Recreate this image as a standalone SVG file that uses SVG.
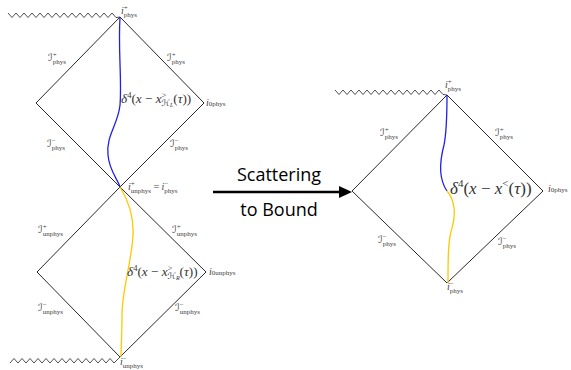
<svg xmlns="http://www.w3.org/2000/svg" width="571" height="370" viewBox="0 0 571 370">
<style>
.edge{fill:none;stroke:#111;stroke-width:0.9}
.zz{fill:none;stroke:#222;stroke-width:0.8}
.blue{fill:none;stroke:#2020e8;stroke-width:1.3}
.yel{fill:none;stroke:#ffc800;stroke-width:1.3}
.lbl{font-family:"Liberation Serif","DejaVu Serif",serif;fill:#444;font-size:10px}
.it{font-style:italic}
.s{font-size:7px;font-style:normal}
.sc{font-family:"DejaVu Serif","DejaVu Sans",serif;font-style:italic}
.math{font-family:"Liberation Serif","DejaVu Serif",serif;fill:#333;font-size:13.2px}
.mathR{font-size:17px}
.cap{font-family:"Open Sans","Noto Sans",sans-serif;font-size:18px;fill:#000;text-anchor:middle}
</style>

<g id="upper-diamond">
<path class="edge" d="M120,17 L204,103 L120,187 L36,103 Z"/>
<path class="zz" d="M8,13 l4,4.5 l4,-4.5 l4,4.5 l4,-4.5 l4,4.5 l4,-4.5 l4,4.5 l4,-4.5 l4,4.5 l4,-4.5 l4,4.5 l4,-4.5 l4,4.5 l4,-4.5 l4,4.5 l4,-4.5 l4,4.5 l4,-4.5 l4,4.5 l4,-4.5 l4,4.5 l4,-4.5 l4,4.5 l4,-4.5 l4,4.5 l4,-4.5 l4,4.5 L120,17"/>
<path class="blue" d="M120,17 C118,50 122,80 120,105 C118,125 106,135 108,155 C109,170 118,180 120,187"/>
<text class="lbl" x="121" y="14"><tspan class="it">i</tspan><tspan class="s" dy="-4">+</tspan><tspan class="s" dx="-4" dy="6.5">phys</tspan></text>
<text class="lbl" x="48" y="61"><tspan class="sc">ℐ</tspan><tspan class="s" dy="-4">+</tspan><tspan class="s" dx="-4" dy="6.5">phys</tspan></text>
<text class="lbl" x="167" y="61"><tspan class="sc">ℐ</tspan><tspan class="s" dy="-4">+</tspan><tspan class="s" dx="-4" dy="6.5">phys</tspan></text>
<text class="lbl" x="47" y="147"><tspan class="sc">ℐ</tspan><tspan class="s" dy="-4">−</tspan><tspan class="s" dx="-4" dy="6.5">phys</tspan></text>
<text class="lbl" x="170" y="147"><tspan class="sc">ℐ</tspan><tspan class="s" dy="-4">−</tspan><tspan class="s" dx="-4" dy="6.5">phys</tspan></text>
<text class="lbl" x="206" y="106"><tspan class="it">i</tspan><tspan class="s">0phys</tspan></text>
<text class="math" x="121" y="103"><tspan class="it">δ</tspan><tspan font-size="8.5" dy="-5.5">4</tspan><tspan dy="5.5">(</tspan><tspan class="it">x</tspan> − <tspan class="it">x</tspan><tspan font-size="8.5" dy="-5.5">&gt;</tspan><tspan font-size="8.5" class="sc" dx="-4.8" dy="8.5">ℋ</tspan><tspan font-size="6" class="it" dy="1">L</tspan><tspan dy="-4">(</tspan><tspan class="it">τ</tspan>))</text>
</g>

<g id="lower-diamond">
<path class="edge" d="M120,187 L206,272 L120,357 L37,272 Z"/>
<path class="zz" d="M10,363 l4,-4.5 l4,4.5 l4,-4.5 l4,4.5 l4,-4.5 l4,4.5 l4,-4.5 l4,4.5 l4,-4.5 l4,4.5 l4,-4.5 l4,4.5 l4,-4.5 l4,4.5 l4,-4.5 l4,4.5 l4,-4.5 l4,4.5 l4,-4.5 l4,4.5 l4,-4.5 l4,4.5 l4,-4.5 l4,4.5 l4,-4.5 l4,4.5 L120,357"/>
<path class="yel" d="M120,187 C128,200 134,215 133,235 C132,260 122,290 122,315 C122,335 121,350 121,357"/>
<text class="lbl" x="128" y="190"><tspan class="it">i</tspan><tspan class="s" dy="-4">+</tspan><tspan class="s" dx="-4" dy="6.5">unphys</tspan><tspan dy="-2.5"> = </tspan><tspan class="it">i</tspan><tspan class="s" dy="-4">−</tspan><tspan class="s" dx="-4" dy="6.5">phys</tspan></text>
<text class="lbl" x="38" y="233"><tspan class="sc">ℐ</tspan><tspan class="s" dy="-4">+</tspan><tspan class="s" dx="-4" dy="6.5">unphys</tspan></text>
<text class="lbl" x="172" y="233"><tspan class="sc">ℐ</tspan><tspan class="s" dy="-4">+</tspan><tspan class="s" dx="-4" dy="6.5">unphys</tspan></text>
<text class="lbl" x="38" y="311"><tspan class="sc">ℐ</tspan><tspan class="s" dy="-4">−</tspan><tspan class="s" dx="-4" dy="6.5">unphys</tspan></text>
<text class="lbl" x="175" y="311"><tspan class="sc">ℐ</tspan><tspan class="s" dy="-4">−</tspan><tspan class="s" dx="-4" dy="6.5">unphys</tspan></text>
<text class="lbl" x="209" y="275"><tspan class="it">i</tspan><tspan class="s">0unphys</tspan></text>
<text class="lbl" x="120" y="365"><tspan class="it">i</tspan><tspan class="s" dy="-4">−</tspan><tspan class="s" dx="-4" dy="6.5">unphys</tspan></text>
<text class="math" x="127" y="276"><tspan class="it">δ</tspan><tspan font-size="8.5" dy="-5.5">4</tspan><tspan dy="5.5">(</tspan><tspan class="it">x</tspan> − <tspan class="it">x</tspan><tspan font-size="8.5" dy="-5.5">&gt;</tspan><tspan font-size="8.5" class="sc" dx="-4.8" dy="8.5">ℋ</tspan><tspan font-size="6" class="it" dy="1">R</tspan><tspan dy="-4">(</tspan><tspan class="it">τ</tspan>))</text>
</g>

<g id="right-diamond">
<path class="edge" d="M447,95 L543,191 L447,283 L352,191 Z"/>
<path class="zz" d="M335,90 l4,4.5 l4,-4.5 l4,4.5 l4,-4.5 l4,4.5 l4,-4.5 l4,4.5 l4,-4.5 l4,4.5 l4,-4.5 l4,4.5 l4,-4.5 l4,4.5 l4,-4.5 l4,4.5 l4,-4.5 l4,4.5 l4,-4.5 l4,4.5 l4,-4.5 l4,4.5 l4,-4.5 l4,4.5 l4,-4.5 l4,4.5 l4,-4.5 l4,4.5 L447,95"/>
<path class="blue" d="M447,95 C447,115 447,130 444,145 C440,160 438,178 447,191"/>
<path class="yel" d="M447,191 C455,200 456,215 452,228 C448,240 448,260 448,283"/>
<text class="lbl" x="445" y="88"><tspan class="it">i</tspan><tspan class="s" dy="-4">+</tspan><tspan class="s" dx="-4" dy="6.5">phys</tspan></text>
<text class="lbl" x="380" y="136"><tspan class="sc">ℐ</tspan><tspan class="s" dy="-4">+</tspan><tspan class="s" dx="-4" dy="6.5">phys</tspan></text>
<text class="lbl" x="495" y="136"><tspan class="sc">ℐ</tspan><tspan class="s" dy="-4">+</tspan><tspan class="s" dx="-4" dy="6.5">phys</tspan></text>
<text class="lbl" x="378" y="243"><tspan class="sc">ℐ</tspan><tspan class="s" dy="-4">−</tspan><tspan class="s" dx="-4" dy="6.5">phys</tspan></text>
<text class="lbl" x="498" y="245"><tspan class="sc">ℐ</tspan><tspan class="s" dy="-4">−</tspan><tspan class="s" dx="-4" dy="6.5">phys</tspan></text>
<text class="lbl" x="548" y="192"><tspan class="it">i</tspan><tspan class="s">0phys</tspan></text>
<text class="lbl" x="447" y="290"><tspan class="it">i</tspan><tspan class="s" dy="-4">−</tspan><tspan class="s" dx="-4" dy="6.5">phys</tspan></text>
<text class="math mathR" x="450" y="194"><tspan class="it">δ</tspan><tspan font-size="11" dy="-7">4</tspan><tspan dy="7">(</tspan><tspan class="it">x</tspan> − <tspan class="it">x</tspan><tspan font-size="11" dy="-7">&lt;</tspan><tspan dy="7">(</tspan><tspan class="it">τ</tspan>))</text>
</g>

<g id="connectors">
<line x1="213" y1="192" x2="341" y2="192" stroke="#000" stroke-width="2.6"/>
<polygon points="339,186 352,192 339,198" fill="#000"/>
</g>
<g id="arrow-label">
<text class="cap" x="279" y="181">Scattering</text>
<text class="cap" x="279" y="216">to Bound</text>
</g>
</svg>
